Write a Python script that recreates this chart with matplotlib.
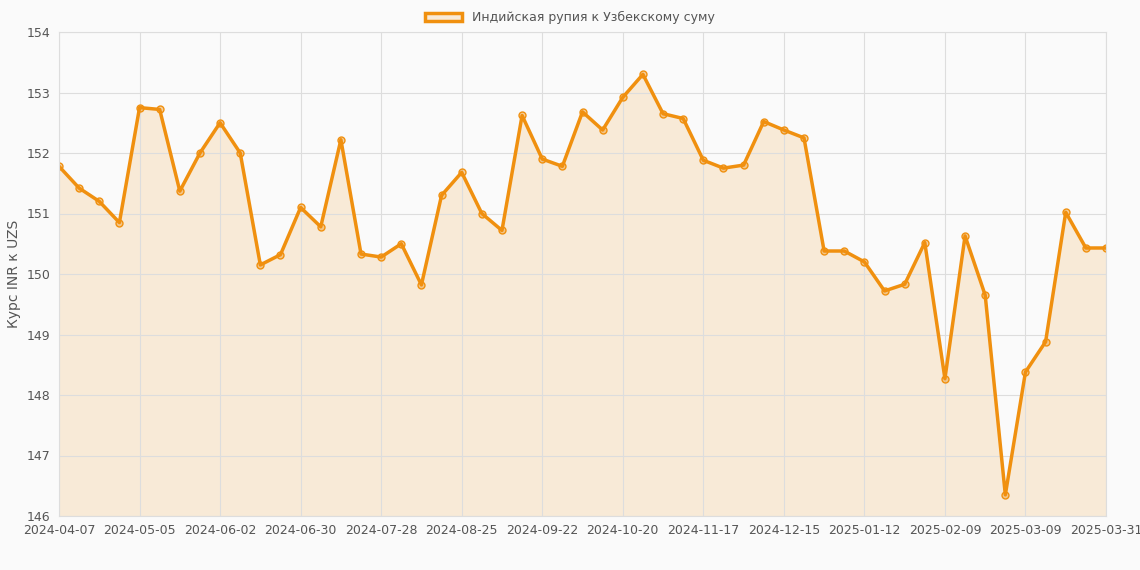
import matplotlib
matplotlib.use("Agg")
import matplotlib.pyplot as plt
from matplotlib.patches import Patch
import datetime as dt

values = [151.78,151.42,151.2,150.85,152.75,152.72,151.37,152.0,152.5,152.0,
          150.15,150.32,151.1,150.78,152.22,150.33,150.28,150.5,149.82,151.3,
          151.68,151.0,150.72,152.62,151.9,151.78,152.68,152.38,152.92,153.3,
          152.65,152.57,151.88,151.75,151.8,152.52,152.38,152.25,150.38,150.38,
          150.2,149.72,149.83,150.52,148.27,150.63,149.65,146.35,148.38,148.88,
          151.02,150.43,150.43]
start = dt.date(2024,4,7)
dates = [(start + dt.timedelta(weeks=i)).isoformat() for i in range(len(values)-1)] + ["2025-03-31"]
tick_idx = list(range(0, len(values)-1, 4)) + [len(values)-1]

color = "#f0900f"
fig = plt.figure(figsize=(11.4,5.7), dpi=100, facecolor="#fafafa")
ax = fig.add_axes([59/1140, 1-516/570, (1106-59)/1140, (516-32)/570])
ax.set_facecolor("#fafafa")
x = list(range(len(values)))
ax.fill_between(x, values, 146, color=color, alpha=0.15, linewidth=0)
ax.plot(x, values, color=color, lw=2.5, marker='o', ms=5, mfc=(0.94,0.56,0.06,0.4), mec=color, mew=1)
ax.set_xlim(0, len(values)-1)
ax.set_ylim(146, 154)
ax.set_xticks(tick_idx)
ax.set_xticklabels([dates[i] for i in tick_idx])
ax.set_yticks(range(146,155))
ax.grid(True, color="#dddddd", lw=0.8)
for s in ax.spines.values():
    s.set_color("#dddddd")
ax.tick_params(colors="#555555", labelsize=9, length=0, pad=6)
ax.set_ylabel("Курс INR к UZS", color="#555555", fontsize=10)
fig.legend(handles=[Patch(facecolor=(0.94,0.56,0.06,0.15), edgecolor=color, lw=2.5,
                          label="Индийская рупия к Узбекскому суму")],
           loc="upper center", bbox_to_anchor=(0.5, 1.0), frameon=False, fontsize=9,
           labelcolor="#555555", handlelength=3)
fig.savefig("out.png", dpi=100, facecolor=fig.get_facecolor())
